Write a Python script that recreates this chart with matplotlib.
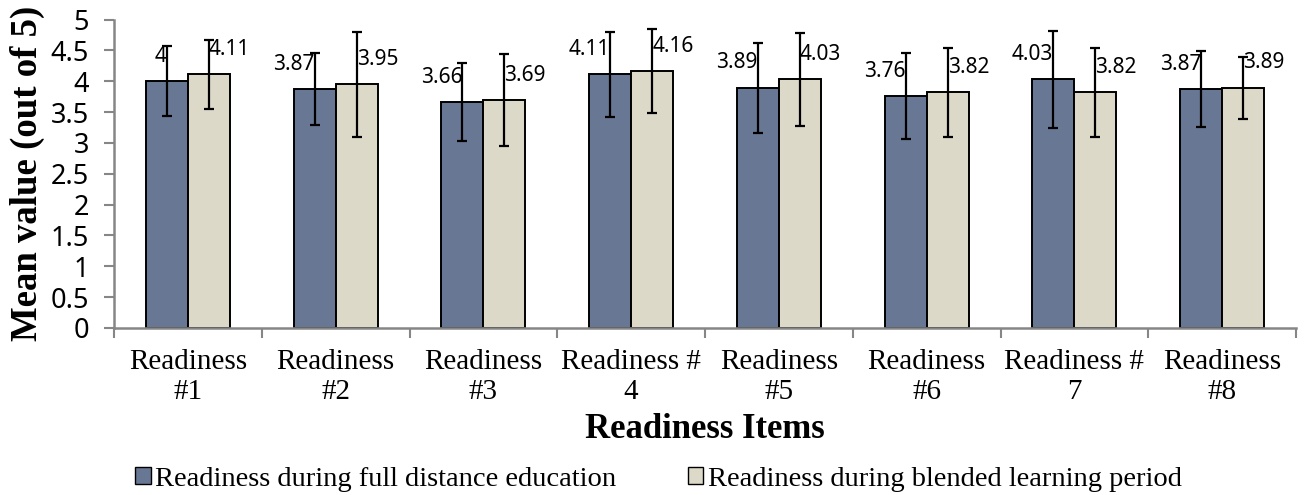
import numpy as np
import matplotlib
matplotlib.use("Agg")
import matplotlib.pyplot as plt
from matplotlib.patches import Patch

# values
items = ["Readiness\n#1", "Readiness\n#2", "Readiness\n#3", "Readiness #\n4",
         "Readiness\n#5", "Readiness\n#6", "Readiness #\n7", "Readiness\n#8"]
full_distance = [4.00, 3.87, 3.66, 4.11, 3.89, 3.76, 4.03, 3.87]
full_distance_sd = [0.57, 0.58, 0.63, 0.69, 0.73, 0.70, 0.785, 0.62]
blended = [4.11, 3.95, 3.69, 4.16, 4.03, 3.82, 3.82, 3.89]
blended_sd = [0.56, 0.855, 0.745, 0.68, 0.75, 0.725, 0.725, 0.505]
series_names = ["Readiness during full distance education",
                "Readiness during blended learning period"]

DARK = "#687894"
LIGHT = "#ddd9c8"
AXIS_GRAY = "#868686"
SERIF = "Liberation Serif"
SANS = "Noto Sans"

fig = plt.figure(figsize=(13.04, 4.95), dpi=100)
ax = fig.add_axes([114 / 1304, 1 - 328 / 495, (1296 - 114) / 1304, (328 - 19.5) / 495])

x = np.arange(len(items))
w = 0.285
err_kw = dict(ecolor="black", elinewidth=1.6, capsize=3.5, capthick=1.6)
ax.bar(x - w / 2, full_distance, w, yerr=full_distance_sd, color=DARK,
       edgecolor="black", linewidth=1.4, error_kw=err_kw, zorder=2)
ax.bar(x + w / 2, blended, w, yerr=blended_sd, color=LIGHT,
       edgecolor="black", linewidth=1.4, error_kw=err_kw, zorder=2)

# data labels: dark one to the left of its error bar, light one to the right
for xi, v in zip(x - w / 2, full_distance):
    ax.annotate(f"{v:g}", (xi, v), xytext=(0, 18), textcoords="offset points",
                ha="right", va="center", fontsize=15, family=SANS)
for xi, v in zip(x + w / 2, blended):
    ax.annotate(f"{v:g}", (xi, v), xytext=(0, 18), textcoords="offset points",
                ha="left", va="center", fontsize=15, family=SANS)

ax.set_xlim(-0.5, len(items) - 0.5)
ax.set_ylim(0, 5)
yt = np.arange(0, 5.01, 0.5)
ax.set_yticks(yt)
ax.set_yticklabels([f"{t:g}" for t in yt], family=SANS, fontsize=19.5)

# tick marks between groups, labels at group centres
ax.set_xticks(np.arange(-0.5, len(items), 1.0))
ax.set_xticklabels([])
ax.set_xticks(x, minor=True)
ax.set_xticklabels(items, minor=True, family=SERIF, fontsize=21, linespacing=1.2)
ax.tick_params(axis="x", which="major", length=7, width=1.5, color=AXIS_GRAY, direction="out")
ax.tick_params(axis="x", which="minor", length=0, pad=15)
ax.tick_params(axis="y", length=7, width=1.5, color=AXIS_GRAY, pad=11)

for side in ("top", "right"):
    ax.spines[side].set_visible(False)
for side in ("left", "bottom"):
    ax.spines[side].set_color(AXIS_GRAY)
    ax.spines[side].set_linewidth(1.8)

ax.set_xlabel("Readiness Items", family=SERIF, fontsize=25, fontweight="bold", labelpad=6)
ax.set_ylabel("Mean value (out of 5)", family=SERIF, fontsize=26.5, fontweight="bold", labelpad=4)

handles = [Patch(facecolor=DARK, edgecolor="black", linewidth=1.0),
           Patch(facecolor=LIGHT, edgecolor="black", linewidth=1.0)]
fig.legend(handles, series_names, loc="center", bbox_to_anchor=(0.505, 1 - 479 / 495),
           ncol=2, frameon=False, prop={"family": SERIF, "size": 20.5},
           handlelength=0.55, handleheight=0.55, handletextpad=0.15, columnspacing=2.5)

fig.savefig("out.png", dpi=100)
